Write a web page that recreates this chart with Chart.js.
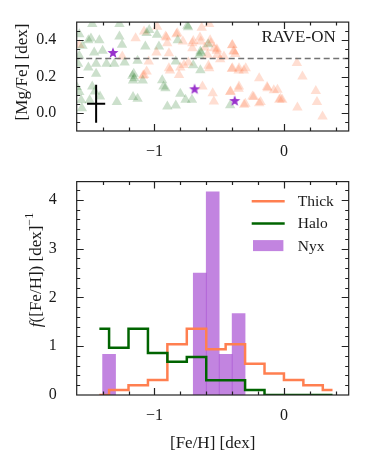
<!DOCTYPE html>
<html>
<head>
<meta charset="utf-8">
<script src="https://cdn.jsdelivr.net/npm/chart.js@4.4.0/dist/chart.umd.min.js"></script>
<style>
  html, body { margin: 0; padding: 0; background: #fff; }
  #wrap { position: relative; width: 374px; height: 467px; }
  .panel { position: absolute; left: 0; width: 374px; }
  #top { top: 0; height: 160px; }
  #bot { top: 160px; height: 307px; }
</style>
</head>
<body>
<div id="wrap">
  <div class="panel" id="top"><canvas id="scatter"></canvas></div>
  <div class="panel" id="bot"><canvas id="hist"></canvas></div>
</div>
<script>
// ---- top panel: [Fe/H] vs [Mg/Fe] (RAVE-ON) ----
const thickFe = [-1.145, -1.08, -1.58, -1.248, -1.08, -0.979, -0.914, -0.901, -0.823, -0.78, -0.707, -0.642,
  -0.577, -0.564, -0.707, -0.59, -0.538, -0.888, -0.772, -0.888, -0.81, -1.044, -1.06, -0.629, -0.577, -0.55,
  -0.907, -0.83, -0.70, -0.648, -0.609, -0.518, -0.492, -0.376, -0.402, -0.35, -0.31, -0.583, -0.88, -0.80,
  -0.738, -0.984, -1.088, -0.635, -0.415, -0.35, -0.298, -0.233, -0.13, -0.078, -0.026, -0.398, -0.385,
  -0.515, -0.463, -0.398, -0.347, -0.295, -0.191, -0.347, -0.412, -0.127, -0.05, -0.243, -0.191, -0.18,
  -0.541, -0.308, -0.036, 0.10, 0.143, 0.246, 0.255, 0.104, 0.298, -0.013, -0.57, -0.518, -0.40, -0.39];
const thickMg = [0.411, 0.448, 0.374, 0.31, 0.209, 0.475, 0.42, 0.384, 0.438, 0.393, 0.384, 0.393,
  0.49, 0.384, 0.356, 0.32, 0.356, 0.328, 0.264, 0.246, 0.209, 0.283, 0.228, 0.145, 0.246, 0.108,
  0.415, 0.433, 0.396, 0.415, 0.36, 0.342, 0.296, 0.324, 0.242, 0.233, 0.233, 0.26, 0.233, 0.25,
  0.278, 0.333, 0.205, 0.469, 0.115, 0.133, 0.05, 0.087, 0.142, 0.124, 0.078, 0.374, 0.338,
  0.319, 0.31, 0.246, 0.246, 0.246, 0.191, 0.145, 0.118, 0.136, 0.127, 0.09, 0.053, 0.06,
  0.063, 0.044, 0.072, 0.274, 0.20, 0.12, 0.06, 0.03, -0.02, 0.072, 0.40, 0.35, 0.372, 0.34];

const haloFe = [-1.58, -1.51, -1.49, -1.425, -1.27, -1.555, -1.40, -1.465, -1.58, -1.59, -1.51, -1.45,
  -1.37, -1.31, -1.23, -1.27, -1.25, -1.48, -1.17, -1.155, -1.165, -1.16, -1.13, -1.09, -1.06, -1.04,
  -0.98, -1.07, -0.965, -0.94, -0.93, -0.915, -1.165, -1.13, -0.90, -0.835, -0.80, -0.835, -0.74,
  -0.745, -0.82, -0.70, -0.645, -0.64, -0.655, -0.585, -0.645, -0.76, -0.71, -0.415, -1.60, -1.58,
  -1.565, -1.50, -1.29, -1.45, -1.42, -1.56, -1.48, -1.46];
const haloMg = [0.433, 0.40, 0.41, 0.40, 0.49, 0.37, 0.342, 0.333, 0.315, 0.27, 0.25, 0.27,
  0.27, 0.27, 0.278, 0.42, 0.375, 0.49, 0.205, 0.19, 0.178, 0.215, 0.287, 0.178, 0.44, 0.457,
  0.43, 0.365, 0.365, 0.18, 0.145, 0.135, 0.087, 0.078, 0.035, 0.04, 0.105, 0.283, 0.472,
  0.48, 0.40, 0.262, 0.338, 0.33, 0.318, 0.378, 0.235, 0.072, 0.072, 0.042, 0.142, 0.115,
  0.069, 0.069, 0.06, 0.215, 0.09, 0.025, 0.145, 0.118];

const nyxFe = [-1.32, -0.69, -0.38];
const nyxMg = [0.33, 0.13, 0.065];

const errFe = -1.45, errMg = 0.05, errDFe = 0.07, errDMg = 0.105;
const mgCut = 0.3;

const feMin = -1.6, feMax = 0.5;
const mgMin = -0.1, mgMax = 0.5;
const feTicks = [-1, 0];
const mgTicks = [0, 0.2, 0.4];

// ---- bottom panel: metallicity distributions ----
const binCenters = [-1.425, -1.275, -1.125, -0.975, -0.825, -0.675, -0.525, -0.375, -0.225, -0.075, 0.075, 0.225, 0.375];
const thickDens = [0, 0.10, 0.20, 0.31, 1.04, 1.36, 0.94, 1.04, 0.64, 0.44, 0.31, 0.20, 0.10];
const haloDens = [1.36, 0.97, 1.36, 0.86, 0.68, 0.78, 0.30, 0.30, 0.10, 0, 0, 0, 0];
const nyxCenters = [-1.35, -0.65, -0.55, -0.45, -0.35];
const nyxDens = [0.833, 2.5, 4.167, 0.833, 1.667];
const densMax = 4.375;
const densTicks = [0, 1, 2, 3, 4];

const pts = (xs, ys) => xs.map((x, i) => ({x: x, y: ys[i]}));
const steps = (a, b, s) => { const r = []; for (let v = a; v <= b + 1e-9; v += s) r.push(+v.toFixed(4)); return r; };
const fmt = v => String(v).replace('-', '\u2212');

Chart.defaults.font.family = '"Liberation Serif", "DejaVu Serif", serif';
Chart.defaults.color = '#1a1a1a';

function makeStar(color, rOut, rIn) {
  const c = document.createElement('canvas');
  c.width = c.height = 14;
  const g = c.getContext('2d');
  g.translate(7, 7);
  g.beginPath();
  for (let i = 0; i < 10; i++) {
    const r = i % 2 ? rIn : rOut;
    const a = -Math.PI / 2 + i * Math.PI / 5;
    g.lineTo(r * Math.cos(a), r * Math.sin(a));
  }
  g.closePath();
  g.fillStyle = color;
  g.fill();
  return c;
}

// inward ticks on all four sides + frame, like matplotlib
const frame = {
  id: 'frame',
  afterDatasetsDraw(chart, args, o) {
    const {ctx, chartArea: a, scales: {x, y}} = chart;
    ctx.save();
    ctx.strokeStyle = '#222';
    ctx.lineWidth = 1.2;
    ctx.beginPath();
    const xm = (vals, len) => vals.forEach(v => {
      const p = Math.round(x.getPixelForValue(v)) + 0.5;
      if (p < a.left + 1 || p > a.right - 1) return;
      ctx.moveTo(p, a.bottom); ctx.lineTo(p, a.bottom - len);
      ctx.moveTo(p, a.top); ctx.lineTo(p, a.top + len);
    });
    const ym = (vals, len) => vals.forEach(v => {
      const p = Math.round(y.getPixelForValue(v)) + 0.5;
      if (p < a.top + 1 || p > a.bottom - 1) return;
      ctx.moveTo(a.left, p); ctx.lineTo(a.left + len, p);
      ctx.moveTo(a.right, p); ctx.lineTo(a.right - len, p);
    });
    xm(o.xMinor, 3.5); xm(o.xMajor, 7);
    ym(o.yMinor, 3.5); ym(o.yMajor, 7);
    ctx.stroke();
    ctx.strokeRect(a.left, a.top, a.right - a.left, a.bottom - a.top);
    ctx.restore();
  }
};

function drawRotated(ctx, cx, cy, parts) {
  ctx.save();
  ctx.translate(cx, cy);
  ctx.rotate(-Math.PI / 2);
  ctx.fillStyle = '#1a1a1a';
  ctx.textBaseline = 'middle';
  ctx.textAlign = 'left';
  let total = 0;
  parts.forEach(p => { ctx.font = p.font; p.w = ctx.measureText(p.t).width; total += p.w; });
  let xx = -total / 2;
  parts.forEach(p => { ctx.font = p.font; ctx.fillText(p.t, xx, p.dy || 0); xx += p.w; });
  ctx.restore();
}

const FONT = '"Liberation Serif", serif';

const topText = {
  id: 'topText',
  afterDraw(chart) {
    const {ctx, chartArea: a} = chart;
    ctx.save();
    ctx.font = '17px ' + FONT;
    ctx.fillStyle = '#1a1a1a';
    ctx.textAlign = 'right';
    ctx.textBaseline = 'middle';
    ctx.fillText('RAVE-ON', a.right - 13, 37.5);
    ctx.restore();
    drawRotated(ctx, 22.5, 72, [{t: '[Mg/Fe] [dex]', font: '17px ' + FONT}]);
  }
};

const botText = {
  id: 'botText',
  afterDraw(chart) {
    const {ctx, chartArea: a} = chart;
    drawRotated(ctx, 37, 110, [
      {t: 'f', font: 'italic 17px ' + FONT},
      {t: '([Fe/H]) [dex]', font: '17px ' + FONT},
      {t: '\u22121', font: '12px ' + FONT, dy: -7}
    ]);
    // legend
    const ds = chart.data.datasets;
    const rows = [ds[1], ds[2], ds[0]];
    const x0 = a.right - 97, x1 = a.right - 64, tx = a.right - 51;
    ctx.save();
    ctx.font = '15.5px ' + FONT;
    ctx.textBaseline = 'middle';
    ctx.textAlign = 'left';
    rows.forEach((d, i) => {
      const yy = a.top + 19.6 + i * 22.2;
      if (d.type === 'bar') {
        ctx.fillStyle = d.backgroundColor;
        ctx.fillRect(x0 + 1.3, yy - 5.5, x1 - x0 - 2.6, 11);
      } else {
        ctx.strokeStyle = d.borderColor;
        ctx.lineWidth = d.borderWidth;
        ctx.beginPath(); ctx.moveTo(x0, yy); ctx.lineTo(x1, yy); ctx.stroke();
      }
      ctx.fillStyle = '#1a1a1a';
      ctx.fillText(d.label, tx, yy + 1);
    });
    ctx.restore();
  }
};

const tickFont = {size: 16};

new Chart(document.getElementById('scatter'), {
  type: 'scatter',
  data: {
    datasets: [
      { label: 'Thick', data: pts(thickFe, thickMg), pointStyle: 'triangle', pointRadius: 6,
        backgroundColor: 'rgba(255,127,80,0.26)', borderWidth: 0, order: 6 },
      { label: 'Halo', data: pts(haloFe, haloMg), pointStyle: 'triangle', pointRadius: 6,
        backgroundColor: 'rgba(0,100,0,0.2)', borderWidth: 0, order: 5 },
      { type: 'line', label: 'cut', data: pts([feMin, feMax], [mgCut, mgCut]), borderColor: 'rgba(100,100,100,0.9)',
        borderDash: [6, 3.5], borderWidth: 1.5, pointRadius: 0, order: 4 },
      { type: 'line', label: 'errx', data: pts([errFe - errDFe, errFe + errDFe], [errMg, errMg]),
        borderColor: '#000', borderWidth: 2, pointRadius: 0, order: 3 },
      { type: 'line', label: 'erry', data: pts([errFe, errFe], [errMg - errDMg, errMg + errDMg]),
        borderColor: '#000', borderWidth: 2, pointRadius: 0, order: 2 },
      { label: 'Nyx', data: pts(nyxFe, nyxMg), pointStyle: makeStar('#9932cc', 5.8, 2.4), pointRadius: 6, order: 1 }
    ]
  },
  options: {
    responsive: true,
    maintainAspectRatio: false,
    animation: false,
    events: [],
    layout: { padding: { top: 21.5, right: 25.3, left: 0, bottom: 0 } },
    scales: {
      x: {
        type: 'linear', min: feMin, max: feMax,
        grid: { display: false }, border: { display: false },
        afterBuildTicks: s => { s.ticks = feTicks.map(v => ({value: v})); },
        afterFit: s => { s.height = 29; },
        ticks: { autoSkip: false, padding: 3, font: tickFont, callback: v => fmt(v) }
      },
      y: {
        min: mgMin, max: mgMax,
        grid: { display: false }, border: { display: false },
        afterBuildTicks: s => { s.ticks = mgTicks.map(v => ({value: v})); },
        afterFit: s => { s.width = 76.7; },
        ticks: { autoSkip: false, padding: 12.5, font: tickFont, callback: v => v.toFixed(1) }
      }
    },
    plugins: {
      legend: { display: false },
      tooltip: { enabled: false },
      frame: { xMajor: feTicks, xMinor: steps(feMin, feMax, 0.2), yMajor: mgTicks, yMinor: steps(mgMin, mgMax, 0.05) }
    }
  },
  plugins: [frame, topText]
});

new Chart(document.getElementById('hist'), {
  type: 'scatter',
  data: {
    datasets: [
      { type: 'bar', label: 'Nyx', data: pts(nyxCenters, nyxDens), backgroundColor: 'rgba(153,50,204,0.6)',
        borderWidth: 0, barPercentage: 1, categoryPercentage: 1, order: 3 },
      { type: 'line', label: 'Thick', data: pts(binCenters, thickDens), stepped: 'middle',
        borderColor: '#ff7f50', borderWidth: 2.5, pointRadius: 0, fill: false, order: 2 },
      { type: 'line', label: 'Halo', data: pts(binCenters, haloDens), stepped: 'middle',
        borderColor: '#006400', borderWidth: 2.5, pointRadius: 0, fill: false, order: 1 }
    ]
  },
  options: {
    responsive: true,
    maintainAspectRatio: false,
    animation: false,
    events: [],
    layout: { padding: { top: 13.7, right: 25.3, left: 0, bottom: 0 } },
    scales: {
      x: {
        type: 'linear', min: feMin, max: feMax, offset: false,
        grid: { display: false, offset: false }, border: { display: false },
        afterBuildTicks: s => { s.ticks = feTicks.map(v => ({value: v})); },
        afterFit: s => { s.height = 72; },
        ticks: { autoSkip: false, padding: 3, font: tickFont, callback: v => fmt(v) },
        title: { display: true, text: '[Fe/H] [dex]', font: {size: 17}, padding: {top: 0, bottom: 13} }
      },
      y: {
        type: 'linear', min: 0, max: densMax,
        grid: { display: false }, border: { display: false },
        afterBuildTicks: s => { s.ticks = densTicks.map(v => ({value: v})); },
        afterFit: s => { s.width = 76.7; },
        ticks: { autoSkip: false, padding: 12, font: tickFont, callback: v => String(v) }
      }
    },
    plugins: {
      legend: { display: false },
      tooltip: { enabled: false },
      frame: { xMajor: feTicks, xMinor: steps(feMin, feMax, 0.2), yMajor: densTicks, yMinor: steps(0, densMax, 0.2) }
    }
  },
  plugins: [frame, botText]
});
</script>
</body>
</html>
